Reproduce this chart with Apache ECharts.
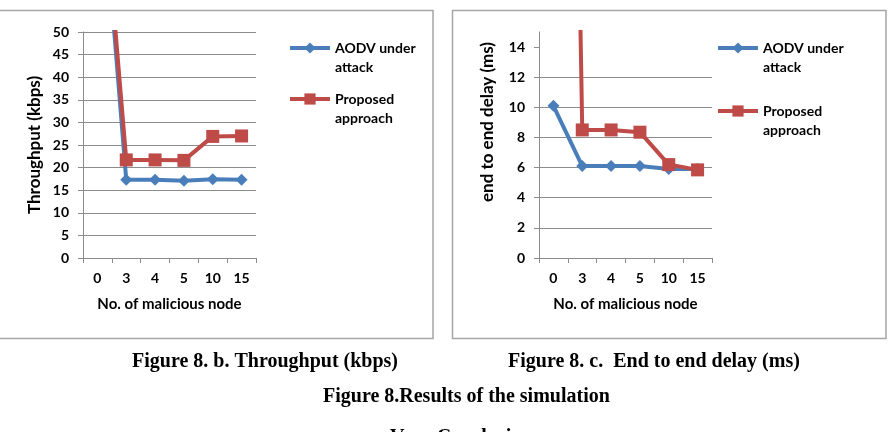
<!DOCTYPE html>
<html>
<head>
<meta charset="utf-8">
<script src="https://cdn.jsdelivr.net/npm/echarts@6/dist/echarts.min.js"></script>
<style>
  html, body { margin: 0; padding: 0; background: #fff; }
  #main { width: 891px; height: 432px; }
</style>
</head>
<body>
<div id="main"></div>
<script>
// categories (no. of malicious nodes)
const categories = ['0', '3', '4', '5', '10', '15'];

// Figure 8.b throughput (kbps) - first point goes off the top of the plot
const throughputAodv = [96, 17.3, 17.3, 17.1, 17.4, 17.3];
const throughputProposed = [98, 21.7, 21.7, 21.6, 26.9, 27.0];

// Figure 8.c end to end delay (ms)
const delayAodv = [10.1, 6.1, 6.1, 6.1, 5.9, 5.9];
const delayProposed = [118, 8.5, 8.5, 8.35, 6.2, 5.85];

const delayTicks = [0, 2, 4, 6, 8, 10, 12, 14];

const seriesNames = ['AODV under attack', 'Proposed approach'];
// leading blank line keeps the first text line level with the legend icon
const legendLabels = {
    'AODV under attack': ' \nAODV under\nattack',
    'Proposed approach': ' \nProposed\napproach'
};

const BLUE = '#4a7ebb';
const RED = '#be4b48';
const GRID_GRAY = '#8c8c8c';
const FONT = 'Lato';

const chart = echarts.init(document.getElementById('main'));

function makeLegend(name, left, top) {
    return {
        data: [name],
        left: left,
        top: top,
        padding: 0,
        itemWidth: 40,
        itemHeight: 14,
        itemGap: 4,
        selectedMode: false,
        lineStyle: { width: 4 },
        formatter: n => legendLabels[n],
        textStyle: {
            fontFamily: FONT,
            fontWeight: 'bold',
            fontSize: 14,
            color: '#000',
            lineHeight: 19
        }
    }
}

function xAxisFor(gridIndex) {
    return {
        type: 'category',
        gridIndex: gridIndex,
        data: categories,
        boundaryGap: true,
        axisLine: { lineStyle: { color: GRID_GRAY, width: 1 } },
        axisTick: { show: true, length: 5, lineStyle: { color: GRID_GRAY } },
        axisLabel: {
            margin: 13,
            color: '#000',
            fontFamily: FONT,
            fontWeight: 'bold',
            fontSize: 14
        },
        name: 'No. of malicious node',
        nameLocation: 'middle',
        nameGap: 39,
        nameTextStyle: {
            color: '#000',
            fontFamily: FONT,
            fontWeight: 'bold',
            fontSize: 15
        }
    }
}

function lineSeries(name, data, color, symbol, size, axisIndex) {
    return {
        name: name,
        type: 'line',
        xAxisIndex: axisIndex,
        yAxisIndex: axisIndex,
        data: data,
        color: color,
        symbol: symbol,
        symbolSize: size,
        clip: true,
        lineStyle: { width: 4, color: color },
        itemStyle: { color: color },
        emphasis: { disabled: true },
        animation: false
    }
}

const captionFont = 'bold 20px "Liberation Serif", "Times New Roman", serif';

const option = {
    backgroundColor: '#fff',
    animation: false,
    grid: [
        { left: 83, top: 32, width: 173, height: 226 },
        { left: 539, top: 32, width: 173, height: 226 }
    ],
    legend: [
        makeLegend(seriesNames[0], 288, 19.5),
        makeLegend(seriesNames[1], 288, 70.5),
        makeLegend(seriesNames[0], 716, 19.5),
        makeLegend(seriesNames[1], 716, 82.5)
    ],
    xAxis: [xAxisFor(0), xAxisFor(1)],
    yAxis: [
        {
            type: 'value',
            gridIndex: 0,
            min: 0,
            max: 50,
            interval: 5,
            axisLine: { show: true, lineStyle: { color: GRID_GRAY } },
            axisTick: { show: true, length: 5, lineStyle: { color: GRID_GRAY } },
            splitLine: { lineStyle: { color: GRID_GRAY, width: 1 } },
            axisLabel: {
                margin: 14,
                color: '#000',
                fontFamily: FONT,
                fontWeight: 'bold',
                fontSize: 14
            },
            name: 'Throughput (kbps)',
            nameLocation: 'middle',
            nameGap: 40,
            nameTextStyle: {
                color: '#000',
                fontFamily: FONT,
                fontWeight: 'bold',
                fontSize: 17
            }
        },
        {
            type: 'value',
            gridIndex: 1,
            min: 0,
            max: 15,
            interval: 2,
            axisLine: { show: true, lineStyle: { color: GRID_GRAY } },
            axisTick: { show: true, length: 5, customValues: delayTicks, lineStyle: { color: GRID_GRAY } },
            splitLine: { showMaxLine: false, lineStyle: { color: GRID_GRAY, width: 1 } },
            axisLabel: {
                margin: 14,
                customValues: delayTicks,
                color: '#000',
                fontFamily: FONT,
                fontWeight: 'bold',
                fontSize: 14
            },
            name: 'end to end delay (ms)',
            nameLocation: 'middle',
            nameGap: 43,
            nameTextStyle: {
                color: '#000',
                fontFamily: FONT,
                fontWeight: 'bold',
                fontSize: 17,
                padding: [0, 0, 0, 46]
            }
        }
    ],
    series: [
        lineSeries(seriesNames[0], throughputAodv, BLUE, 'diamond', 12, 0),
        lineSeries(seriesNames[1], throughputProposed, RED, 'rect', 13, 0),
        lineSeries(seriesNames[0], delayAodv, BLUE, 'diamond', 12, 1),
        lineSeries(seriesNames[1], delayProposed, RED, 'rect', 13, 1)
    ],
    graphic: [
        // chart frames
        { type: 'rect', shape: { x: -2, y: 10.5, width: 435, height: 328 }, style: { fill: 'none', stroke: '#a6a6a6', lineWidth: 1.5 }, silent: true },
        { type: 'rect', shape: { x: 452.5, y: 10.5, width: 433.5, height: 328 }, style: { fill: 'none', stroke: '#a6a6a6', lineWidth: 1.5 }, silent: true },
        // captions
        { type: 'text', x: 132, y: 362, style: { text: 'Figure 8. b. Throughput (kbps)', font: captionFont, fill: '#000', verticalAlign: 'middle' }, silent: true },
        { type: 'text', x: 508, y: 362, style: { text: 'Figure 8. c.  End to end delay (ms)', font: captionFont, fill: '#000', verticalAlign: 'middle' }, silent: true },
        { type: 'text', x: 323, y: 397, style: { text: 'Figure 8.Results of the simulation', font: captionFont, fill: '#000', verticalAlign: 'middle' }, silent: true },
        { type: 'text', x: 390, y: 438, style: { text: 'V.      Conclusion', font: captionFont, fill: '#000', verticalAlign: 'middle' }, silent: true }
    ]
};

chart.setOption(option);
</script>
</body>
</html>
